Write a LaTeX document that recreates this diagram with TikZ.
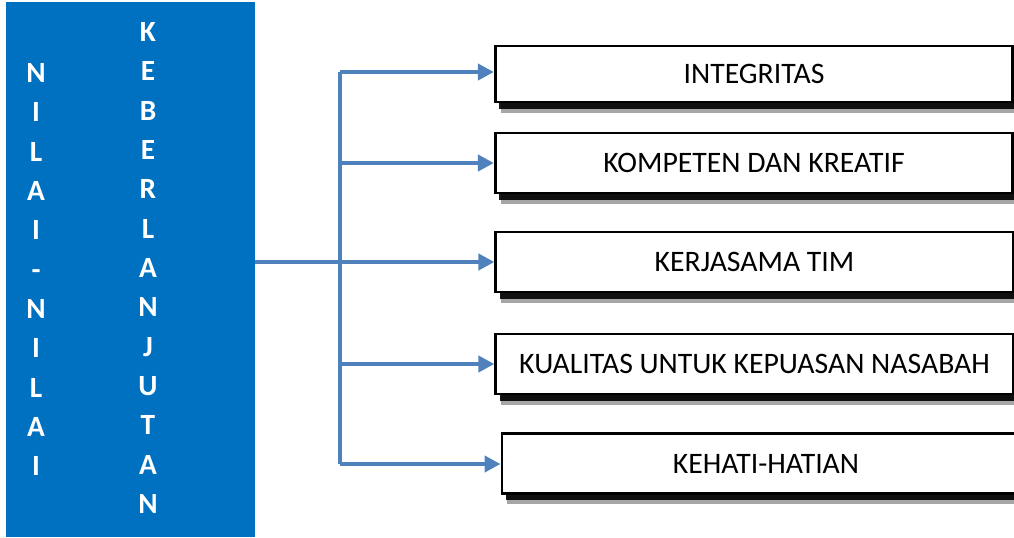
\documentclass[tikz,border=0pt]{standalone}
\usepackage{fontspec}
\setmainfont{Carlito}
\usetikzlibrary{arrows.meta,shadows,positioning}
\definecolor{pillar}{HTML}{0070C0}
\definecolor{link}{HTML}{4F81BD}
\tikzset{value/.style={draw=black,line width=2.2pt,fill=white,minimum width=388pt,minimum height=45pt,
    font=\fontsize{22.3}{26}\selectfont,
    drop shadow={shadow xshift=4pt,shadow yshift=-8pt,opacity=0.35,fill=black},
    drop shadow={shadow xshift=3pt,shadow yshift=-5pt,opacity=0.9,fill=black}},
  branch/.style={draw=link,line width=3pt,-{Triangle[length=12pt,width=12pt]}},
  letters/.style={text=white,align=center,font=\bfseries\fontsize{22}{29.5}\selectfont}}

\begin{document}
\begin{tikzpicture}[x=0.75pt,y=-0.75pt]
              \useasboundingbox (0,0) rectangle (1014,537);

              \node[fill=pillar,minimum width=186.75pt,minimum height=401.25pt,inner sep=0pt] (nilai) at (130.5,269.5) {};
              \node[letters] (left) at (36,269.5) {N\\I\\L\\A\\I\\-\\N\\I\\L\\A\\I};
              \node[letters] (right) at (148,268) {K\\E\\B\\E\\R\\L\\A\\N\\J\\U\\T\\A\\N};

              \node[value,minimum height=42pt] (integ) at (754,74) {INTEGRITAS};
              \node[value] (komp) at (754,163) {KOMPETEN DAN KREATIF};
              \node[value] (kerja) at (754.5,262) {KERJASAMA TIM};
              \node[value] (kual) at (754.5,364) {KUALITAS UNTUK KEPUASAN NASABAH};
              \node[value,minimum width=396pt] (hati) at (766,463.5) {KEHATI-HATIAN};

              \coordinate (top) at (340,72);
              \coordinate (bot) at (340,464);

              \draw[link,line width=3pt] (top) -- (bot);
              \draw[branch] (kerja.west -| nilai.east) -- (kerja.west);
              \draw[branch] (top) -- (integ.west |- top);
              \draw[branch] (komp.west -| top) -- (komp.west);
              \draw[branch] (kual.west -| top) -- (kual.west);
              \draw[branch] (bot) -- (hati.west |- bot);
\end{tikzpicture}
\end{document}
